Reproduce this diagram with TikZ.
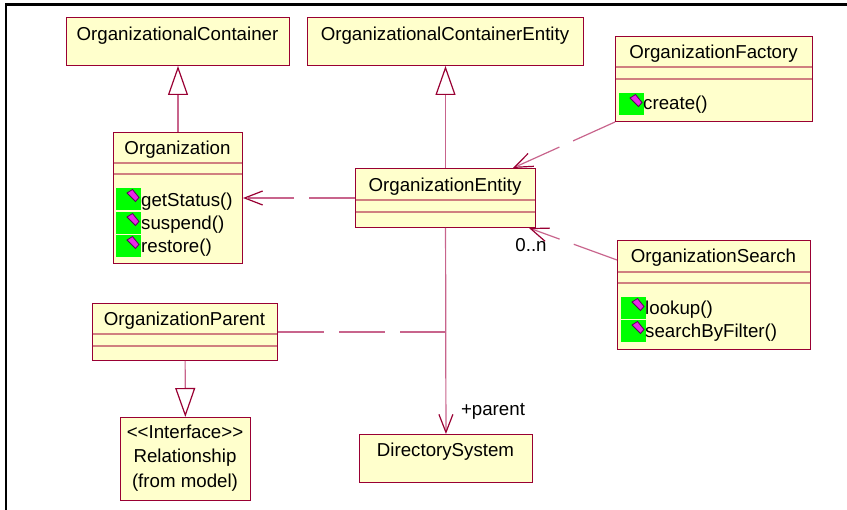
\documentclass[tikz,border=0pt]{standalone}
\usepackage{fontspec}
\setmainfont{Liberation Sans}
\usetikzlibrary{arrows.meta}

\definecolor{umlfill}{RGB}{255,255,204}
\definecolor{umlborder}{RGB}{153,0,51}
\definecolor{umlsep}{RGB}{208,128,128}
\definecolor{umlline}{RGB}{200,100,140}
\definecolor{opgreen}{RGB}{0,255,0}
\definecolor{opmagenta}{RGB}{232,40,232}
\definecolor{opdark}{RGB}{90,0,90}

% operation icon: green square with the small diamond
\newcommand{\opicon}[2]{%
  \fill[opgreen] (#1,#2) rectangle ++(25,22);
  \filldraw[fill=opmagenta, draw=opdark, line width=.8pt] (#1+11,#2+5) --
  (#1+16.5,#2+1.5) -- (#1+23,#2+9.5) -- (#1+19.5,#2+13.5) -- cycle;
}

\tikzset{
  classbox/.style = {draw = umlborder, fill = umlfill, line width = 1pt,
    inner sep = 0pt, anchor = north west},
  compart/.style = {draw = umlsep, line width = 1.3pt},
  gen/.style = {draw = umlline, line width = 1.2pt,
    -{Triangle[open, length = 29pt, width = 20pt, color = umlborder]}},
  dep/.style = {draw = umlline, line width = 1.2pt,
    dash pattern = on 46pt off 15pt,
    -{Straight Barb[length = 18pt, width = 14pt, color = umlborder]}},
  link/.style = {draw = umlline, line width = 1.2pt,
    dash pattern = on 46pt off 15pt},
  assoc/.style = {draw = umlline, line width = 1.2pt,
    -{Straight Barb[length = 18pt, width = 14pt, color = umlborder]}},
  txt/.style = {anchor = base, inner sep = 0pt},
  optxt/.style = {anchor = base west, inner sep = 0pt}
}

\begin{document}
\begin{tikzpicture}[x = 1pt, y = -1pt, font = \fontsize{18.7}{22}\selectfont]
  \useasboundingbox (0, 0) rectangle (847, 510);
  \draw[line width = 2.5pt] (6, 510) -- (6, 4.5) -- (847, 4.5);

  % classes
  \node[classbox, minimum width = 223pt, minimum height = 48pt] (occ) at (66, 17) {};
  \node[txt] (occname) at (177.5, 41) {OrganizationalContainer};

  \node[classbox, minimum width = 276pt, minimum height = 48pt] (occe) at (307, 17) {};
  \node[txt] (occename) at (445, 41) {OrganizationalContainerEntity};

  \node[classbox, minimum width = 129pt, minimum height = 131pt] (org) at (113, 132) {};
  \node[txt] (orgname) at (177.5, 155) {Organization};
  \draw[compart] (113.5, 163) -- (241.5, 163);
  \draw[compart] (113.5, 174) -- (241.5, 174);
  \opicon{116}{188}
  \opicon{116}{212}
  \opicon{116}{235}
  \node[optxt] (getstatus) at (141, 207) {getStatus()};
  \node[optxt] (suspend) at (141, 230) {suspend()};
  \node[optxt] (restore) at (141, 253) {restore()};

  \node[classbox, minimum width = 180pt, minimum height = 59pt] (oe) at (355, 168) {};
  \node[txt] (oename) at (445, 192) {OrganizationEntity};
  \draw[compart] (355.5, 200) -- (534.5, 200);
  \draw[compart] (355.5, 212) -- (534.5, 212);

  \node[classbox, minimum width = 197pt, minimum height = 85pt] (of) at (615, 36) {};
  \node[txt] (ofname) at (713.5, 59) {OrganizationFactory};
  \draw[compart] (615.5, 67) -- (811.5, 67);
  \draw[compart] (615.5, 79) -- (811.5, 79);
  \opicon{619}{93}
  \node[optxt] (create) at (643, 110) {create()};

  \node[classbox, minimum width = 193pt, minimum height = 109pt] (os) at (617, 240) {};
  \node[txt] (osname) at (713.5, 263) {OrganizationSearch};
  \draw[compart] (617.5, 272) -- (809.5, 272);
  \draw[compart] (617.5, 283) -- (809.5, 283);
  \opicon{621}{297}
  \opicon{621}{320}
  \node[optxt] (lookup) at (645, 315) {lookup()};
  \node[optxt] (searchfilter) at (645, 338) {searchByFilter()};

  \node[classbox, minimum width = 185pt, minimum height = 57pt] (op) at (92, 303) {};
  \node[txt] (opname) at (184.5, 326) {OrganizationParent};
  \draw[compart] (92.5, 334) -- (276.5, 334);
  \draw[compart] (92.5, 346) -- (276.5, 346);

  \node[classbox, minimum width = 130pt, minimum height = 83pt] (rel) at (120, 417) {};
  \node[txt] (relstereo) at (185, 439) {<{}<Interface>{}>};
  \node[txt] (relname) at (185, 463) {Relationship};
  \node[txt] (relpkg) at (185, 488) {(from model)};

  \node[classbox, minimum width = 173pt, minimum height = 48pt] (ds) at (359, 434) {};
  \node[txt] (dsname) at (445.5, 457) {DirectorySystem};

  % relations
  \draw[gen] (org) -- (occ);
  \draw[gen] (oe) -- (occe);
  \draw[gen] (op) -- (rel);
  \draw[dep] (oe) -- (org);
  \draw[dep] (of.south west) -- ([xshift = -23pt]oe.north east);
  \draw[dep] ([yshift = -20pt]os.north west) -- ([xshift = -7pt]oe.south east);
  \node[txt] (mult) at (531, 252) {0..n};
  \draw[link] (op.east) -- (op.east -| oe.south);
  \draw[assoc] (oe) -- (ds);
  \node[txt] (parentrole) at (493, 416) {+parent};
\end{tikzpicture}
\end{document}
